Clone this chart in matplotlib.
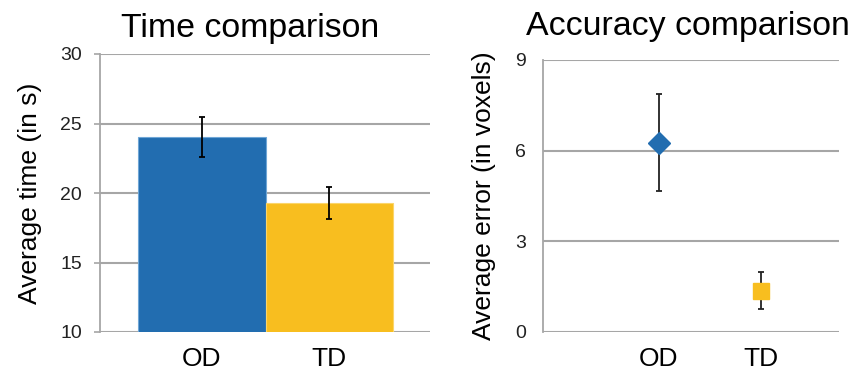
import matplotlib
matplotlib.use("Agg")
import matplotlib.pyplot as plt

plt.rcParams['font.family'] = ['Liberation Sans', 'DejaVu Sans']

groups = ["OD", "TD"]
time_mean = [24.05, 19.3]
time_err = [1.45, 1.15]
acc_mean = [6.26, 1.36]
acc_err = [1.6, 0.62]

blue = "#226db0"
yellow = "#f8be1f"
grid = "#a6a6a6"

W, H = 860, 373
fig = plt.figure(figsize=(W / 100, H / 100), dpi=100)

def px_axes(x0, y0, x1, y1):
	return fig.add_axes([x0 / W, (H - y1) / H, (x1 - x0) / W, (y1 - y0) / H])

def style(ax):
	for s in ["top", "right", "bottom"]:
		ax.spines[s].set_visible(False)
	ax.spines["left"].set_color(grid)
	ax.spines["left"].set_linewidth(1.3)
	ax.yaxis.grid(True, color=grid, linewidth=1.5)
	ax.set_axisbelow(True)
	ax.tick_params(axis="y", length=4, width=1.2, color=grid, pad=9, labelsize=14, labelcolor="#222222")
	ax.tick_params(axis="x", length=0, pad=11, labelsize=19)

# left: time bar chart
ax1 = px_axes(100, 54, 430, 332)
x = range(len(groups))
ax1.bar(x, time_mean, width=1.0, color=[blue, yellow], edgecolor=["#6fa6d6", "#fbd56a"], linewidth=0.8,
	yerr=time_err, error_kw=dict(ecolor="black", elinewidth=1.3, capsize=2.5, capthick=1.3))
ax1.set_ylim(10, 30)
ax1.set_yticks([10, 15, 20, 25, 30])
ax1.set_xlim(-0.803, 1.795)
ax1.set_xticks(list(x))
ax1.set_xticklabels(groups)
style(ax1)
ax1.set_ylabel("Average time (in s)", fontsize=19, labelpad=13)
ax1.set_title("Time comparison", fontsize=24.4, x=0.455, pad=12)

# right: accuracy points
ax2 = px_axes(543, 60, 839, 331.7)
ax2.errorbar([0], acc_mean[:1], yerr=acc_err[:1], fmt="D", color=blue, markersize=11,
	ecolor="#222222", elinewidth=1.3, capsize=2.5, capthick=1.3)
ax2.errorbar([1], acc_mean[1:], yerr=acc_err[1:], fmt="s", color=yellow, markersize=12,
	ecolor="#222222", elinewidth=1.3, capsize=2.5, capthick=1.3)
ax2.set_ylim(0, 9)
ax2.set_yticks([0, 3, 6, 9])
ax2.set_xlim(-1.131, 1.762)
ax2.set_xticks(list(x))
ax2.set_xticklabels(groups)
style(ax2)
ax2.tick_params(axis="y", length=0, pad=12)
ax2.set_ylabel("Average error (in voxels)", fontsize=19, labelpad=14)
ax2.set_title("Accuracy comparison", fontsize=24.4, x=0.488, pad=18)

fig.savefig("out.png", dpi=100)
